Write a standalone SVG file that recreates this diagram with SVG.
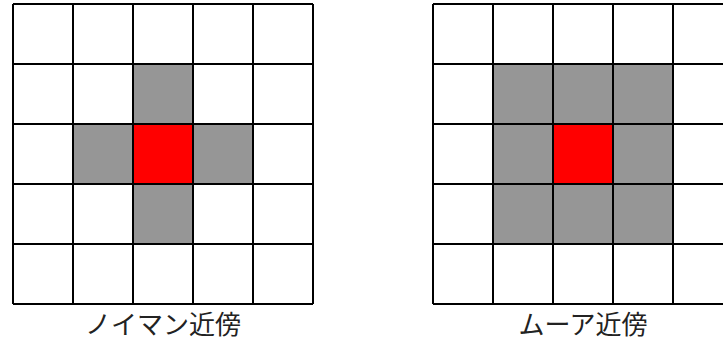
<svg xmlns="http://www.w3.org/2000/svg" width="723" height="342" viewBox="0 0 723 342">
<style>
.g{fill:#969696}
.r{fill:#ff0000}
.ln{stroke:#000;stroke-width:2;fill:none}
.lbl{font-family:"Noto Sans CJK JP","Noto Sans CJK SC",sans-serif;font-size:26px;fill:#222;text-anchor:middle}
</style>
<rect width="723" height="342" fill="#fff"/>
<g id="neumann">
<rect class="g" x="133" y="64" width="60" height="60"/>
<rect class="g" x="73" y="124" width="60" height="60"/>
<rect class="g" x="193" y="124" width="60" height="60"/>
<rect class="g" x="133" y="184" width="60" height="60"/>
<rect class="r" x="133" y="124" width="60" height="60"/>
<path class="ln" d="M13 4V304M73 4V304M133 4V304M193 4V304M253 4V304M313 4V304M13 4H313M13 64H313M13 124H313M13 184H313M13 244H313M13 304H313"/>
<text class="lbl" x="163" y="334">ノイマン近傍</text>
</g>
<g id="moore">
<rect class="g" x="493" y="64" width="180" height="180"/>
<rect class="r" x="553" y="124" width="60" height="60"/>
<path class="ln" d="M433 4V304M493 4V304M553 4V304M613 4V304M673 4V304M733 4V304M433 4H733M433 64H733M433 124H733M433 184H733M433 244H733M433 304H733"/>
<text class="lbl" x="583" y="334">ムーア近傍</text>
</g>
</svg>
